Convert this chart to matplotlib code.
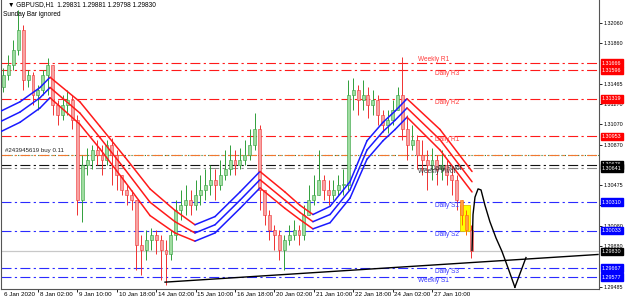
import matplotlib
matplotlib.use("Agg")
import matplotlib.pyplot as plt
import matplotlib.transforms as mtransforms
from matplotlib.patches import Rectangle

plt.rcParams['font.family'] = ['Liberation Sans', 'DejaVu Sans']

# GBPUSD H1 in 4-hour blocks (open = previous close)
first_open = 1.3143
closes = [1.3155, 1.3165, 1.3180, 1.3199, 1.3150, 1.3155, 1.3136, 1.3141, 1.3155, 1.3165,
          1.3126, 1.3116, 1.3126, 1.3131, 1.3111, 1.3033, 1.3067, 1.3072, 1.3082, 1.3077,
          1.3072, 1.3087, 1.3077, 1.3058, 1.3043, 1.3038, 1.3033, 1.2989, 1.2984, 1.2994,
          1.2999, 1.2994, 1.2984, 1.2980, 1.2999, 1.3023, 1.3028, 1.3033, 1.3028, 1.3038,
          1.3043, 1.3048, 1.3053, 1.3048, 1.3058, 1.3063, 1.3072, 1.3067, 1.3072, 1.3077,
          1.3087, 1.3102, 1.3043, 1.3019, 1.3004, 1.2999, 1.2984, 1.2994, 1.2999, 1.3004,
          1.2999, 1.3019, 1.3033, 1.3038, 1.3053, 1.3043, 1.3038, 1.3043, 1.3048, 1.3048,
          1.3136, 1.3141, 1.3131, 1.3136, 1.3126, 1.3131, 1.3116, 1.3106, 1.3111, 1.3121,
          1.3136, 1.3102, 1.3087, 1.3092, 1.3077, 1.3072, 1.3067, 1.3072, 1.3063, 1.3067,
          1.3058, 1.3053, 1.3033, 1.3019, 1.3004, 1.2983]
highs = [1.3162, 1.3175, 1.3189, 1.3219, 1.3204, 1.3160, 1.3158, 1.3145, 1.3160, 1.3172,
         1.3155, 1.3131, 1.3136, 1.3141, 1.3136, 1.3116, 1.3077, 1.3084, 1.3087, 1.3092,
         1.3087, 1.3092, 1.3094, 1.3082, 1.3058, 1.3048, 1.3043, 1.3033, 1.2999, 1.3004,
         1.3006, 1.3004, 1.2999, 1.2994, 1.3004, 1.3033, 1.3043, 1.3048, 1.3043, 1.3053,
         1.3058, 1.3063, 1.3067, 1.3063, 1.3072, 1.3082, 1.3087, 1.3082, 1.3084, 1.3092,
         1.3102, 1.3118, 1.3106, 1.3038, 1.3023, 1.3009, 1.3004, 1.2999, 1.3009, 1.3014,
         1.3009, 1.3028, 1.3048, 1.3058, 1.3082, 1.3058, 1.3053, 1.3053, 1.3058, 1.3063,
         1.3150, 1.3152, 1.3145, 1.3150, 1.3143, 1.3141, 1.3136, 1.3121, 1.3121, 1.3131,
         1.3143, 1.3173, 1.3116, 1.3106, 1.3097, 1.3092, 1.3082, 1.3084, 1.3077, 1.3082,
         1.3072, 1.3067, 1.3058, 1.3033, 1.3023, 1.3009]
lows = [1.3139, 1.3150, 1.3160, 1.3175, 1.3141, 1.3143, 1.3126, 1.3121, 1.3136, 1.3136,
        1.3116, 1.3106, 1.3111, 1.3116, 1.3102, 1.3019, 1.3012, 1.3058, 1.3063, 1.3067,
        1.3058, 1.3067, 1.3048, 1.3043, 1.3038, 1.3028, 1.3023, 1.2965, 1.2960, 1.2975,
        1.2984, 1.2980, 1.2955, 1.2950, 1.2975, 1.2994, 1.3014, 1.3019, 1.3019, 1.3023,
        1.3028, 1.3033, 1.3038, 1.3033, 1.3043, 1.3053, 1.3058, 1.3058, 1.3063, 1.3067,
        1.3072, 1.3082, 1.3023, 1.3009, 1.2994, 1.2984, 1.2975, 1.2965, 1.2989, 1.2994,
        1.2989, 1.2994, 1.3019, 1.3028, 1.3038, 1.3033, 1.3028, 1.3033, 1.3038, 1.3038,
        1.3043, 1.3121, 1.3116, 1.3121, 1.3113, 1.3116, 1.3106, 1.3100, 1.3099, 1.3106,
        1.3121, 1.3092, 1.3072, 1.3082, 1.3063, 1.3058, 1.3043, 1.3053, 1.3048, 1.3053,
        1.3048, 1.3038, 1.3023, 1.3009, 1.2999, 1.2977]
highlighted = [93, 94]   # candles inside the yellow box

# envelope channel (middle line knots in H1 bar units) and half width
ma_bar = [0, 15.4, 31.7, 39.8, 64.1, 80.4, 100.7, 121, 141.3, 157.5, 173.8, 194.1,
          210.3, 230.6, 242.8, 253.3, 267.2, 283.4, 297.2, 310.2, 320, 329.7, 356.5, 382.5]
ma_mid = [1.3110, 1.3119, 1.3133, 1.3143, 1.3118, 1.3094, 1.3063, 1.3031, 1.3012, 1.3001,
          1.3009, 1.3033, 1.3053, 1.3033, 1.3021, 1.3012, 1.3019, 1.3043, 1.3082, 1.3100,
          1.3111, 1.3123, 1.3092, 1.3051]
ma_half = [0.0010, 0.0010, 0.0010, 0.0010, 0.0011, 0.0011, 0.0012, 0.0013, 0.0011, 0.0008,
           0.0008, 0.0008, 0.0008, 0.0008, 0.0007, 0.0007, 0.0008, 0.0008, 0.0009, 0.0009,
           0.0009, 0.0009, 0.0010, 0.0010]

# pivot levels
levels = [1.31666, 1.31596, 1.31319, 1.30953, 1.30676, 1.30641, 1.30310, 1.30033, 1.29667, 1.29577]
level_names = ["Weekly R1", "Daily R3", "Daily R2", "Daily R1", "Daily Pivot", "Weekly Pivot",
               "Daily S1", "Daily S2", "Daily S3", "Weekly S1"]
level_kind = ["R", "R", "R", "R", "P", "P", "S", "S", "S", "S"]
order_price = 1.3077
bid = 1.29830

# trend line and hand drawn arrow
trend_bar = [133.2, 484.8]
trend_price = [1.2953, 1.2980]
arrow_bar = [382.5, 383.3, 384.9, 387.4, 389.8, 393, 397, 402, 406.8, 411.7, 417.3]
arrow_price = [1.2984, 1.3019, 1.3036, 1.3044, 1.3043, 1.3028, 1.3012, 1.2996, 1.2983, 1.2967, 1.2948]
arrow_arm_bar = [417.3, 426.3]
arrow_arm_price = [1.2948, 1.2977]
box_bar = [372.5, 381]
box_price = [1.3003, 1.3028]

price_ticks = [1.32060, 1.31860, 1.31465, 1.31270, 1.31070, 1.30870, 1.30475,
               1.30280, 1.30080, 1.29880, 1.29485]
time_labels = ["6 Jan 2020", "8 Jan 02:00", "9 Jan 10:00", "10 Jan 18:00", "14 Jan 02:00",
               "15 Jan 10:00", "16 Jan 18:00", "20 Jan 02:00", "21 Jan 10:00", "22 Jan 18:00",
               "24 Jan 02:00", "27 Jan 10:00"]

kind_color = {"R": "#ff1a1a", "P": "#111111", "S": "#2b2bff"}
label_color = {"R": "#ff3b3b", "P": "#333333", "S": "#3a3aff"}

fig = plt.figure(figsize=(6.25, 3.03), dpi=100)
ax = fig.add_axes([1 / 625, 14 / 303, 598 / 625, 289 / 303])
ax.set_xlim(0, 485.6)
ax.set_ylim(1.29463, 1.32284)
ax.set_facecolor("white")

# level lines
dash = (0, (9, 3, 2, 3))
for lv, kind in zip(levels, level_kind):
    col = kind_color[kind]
    if lv == 1.30641:
        col = "#888888"
    ax.axhline(lv, color=col, lw=0.8, linestyle=dash, zorder=1)
ax.axhline(order_price, color="#2e7d32", lw=0.8, linestyle=(0, (1, 2)), zorder=1)
ax.axhline(order_price, color="#f07830", lw=0.8, linestyle=dash, zorder=1)
ax.axhline(bid, color="#c8c8c8", lw=0.9, zorder=1)

# yellow box
ax.add_patch(Rectangle((box_bar[0], box_price[0]), box_bar[1] - box_bar[0],
                       box_price[1] - box_price[0], facecolor="#ffff00",
                       edgecolor="#e0c000", lw=0.6, zorder=1.5))

# candles
opens = [first_open] + closes[:-1]
for i, (o, h, l, c) in enumerate(zip(opens, highs, lows, closes)):
    x = 4 * i + 2
    if i in highlighted:
        dark, light = "#ff6a00", "#ff9f40"
    elif c >= o:
        dark, light = "#2f9e3a", "#9fdca0"
    else:
        dark, light = "#f03030", "#f7a3a3"
    ax.vlines(x, min(l, o, c), max(h, o, c), color=dark, lw=0.7, zorder=2)
    ax.add_patch(Rectangle((x - 1.2, min(o, c)), 2.4, max(abs(c - o), 0.00004),
                           facecolor=light, edgecolor=dark, lw=0.4, zorder=2.5))

# envelope channel, blue while rising, red while falling
for k in range(len(ma_bar) - 1):
    col = "#1a1aff" if ma_mid[k + 1] > ma_mid[k] else "#ff1a1a"
    for s in (-1, 0, 1):
        ax.plot(ma_bar[k:k + 2],
                [ma_mid[k] + s * ma_half[k], ma_mid[k + 1] + s * ma_half[k + 1]],
                color=col, lw=1.1, solid_capstyle="round", zorder=3)

# trend line and arrow
ax.plot(trend_bar, trend_price, color="black", lw=1.0, zorder=4)
ax.plot(arrow_bar, arrow_price, color="black", lw=1.0, zorder=4)
ax.plot(arrow_arm_bar, arrow_arm_price, color="black", lw=1.0, zorder=4)

# level captions
fs = 4.7
for lv, name, kind in zip(levels, level_names, level_kind):
    xb = 338.5 if name.startswith("Weekly") else 352.5
    if name == "Daily Pivot":
        xb = 349.5
    va = "bottom" if name == "Weekly R1" else "top"
    ax.text(xb, lv, name, color=label_color[kind], fontsize=fs, va=va, ha="left", zorder=6)
ax.text(3, order_price + 0.00025, "#243945619 buy 0.11", color="#222222", fontsize=fs - 0.3,
        va="bottom", ha="left", zorder=6)

# header
ax.text(0.012, 0.995, "\u25bc GBPUSD,H1  1.29831 1.29881 1.29798 1.29830", transform=ax.transAxes,
        fontsize=fs, va="top", ha="left", zorder=6)
ax.text(0.004, 0.962, "Sunday Bar ignored", transform=ax.transAxes,
        fontsize=fs, va="top", ha="left", zorder=6)

# axes look
ax.spines["top"].set_visible(False)
for side in ("left", "right", "bottom"):
    ax.spines[side].set_color("#555555")
    ax.spines[side].set_linewidth(0.8)

ax.yaxis.tick_right()
ax.set_yticks(price_ticks)
ax.set_yticklabels([f"{p:.5f}" for p in price_ticks])
ax.tick_params(axis="y", direction="out", length=2, width=0.6, pad=1, labelsize=3.9)

ticks_x = [1] + [30 + 32 * k for k in range(len(time_labels) - 1)]
ax.set_xticks(ticks_x[1:])
ax.set_xticklabels([])
ax.tick_params(axis="x", direction="out", length=2.5, width=0.6)
xtr = mtransforms.blended_transform_factory(ax.transData, ax.transAxes)
for xb, lab in zip(ticks_x, time_labels):
    ax.text(xb + 1.5, -0.012, lab, transform=xtr, fontsize=4.5, va="top", ha="left", clip_on=False)

# price boxes on the right scale
ytr = mtransforms.blended_transform_factory(ax.transAxes, ax.transData)
box_vals = levels[:6] + [levels[6], levels[7], bid, levels[8], levels[9]]
box_cols = ["#ff0000"] * 4 + ["#000000"] * 2 + ["#0000ff"] * 2 + ["#000000"] + ["#0000ff"] * 2
for v, col in zip(box_vals, box_cols):
    ax.text(1.005, v, f"{v:.5f}", transform=ytr, fontsize=3.9, color="white", va="center",
            ha="left", clip_on=False, zorder=7,
            bbox=dict(boxstyle="square,pad=0.25", facecolor=col, edgecolor=col))

fig.savefig("out.png", dpi=100)
